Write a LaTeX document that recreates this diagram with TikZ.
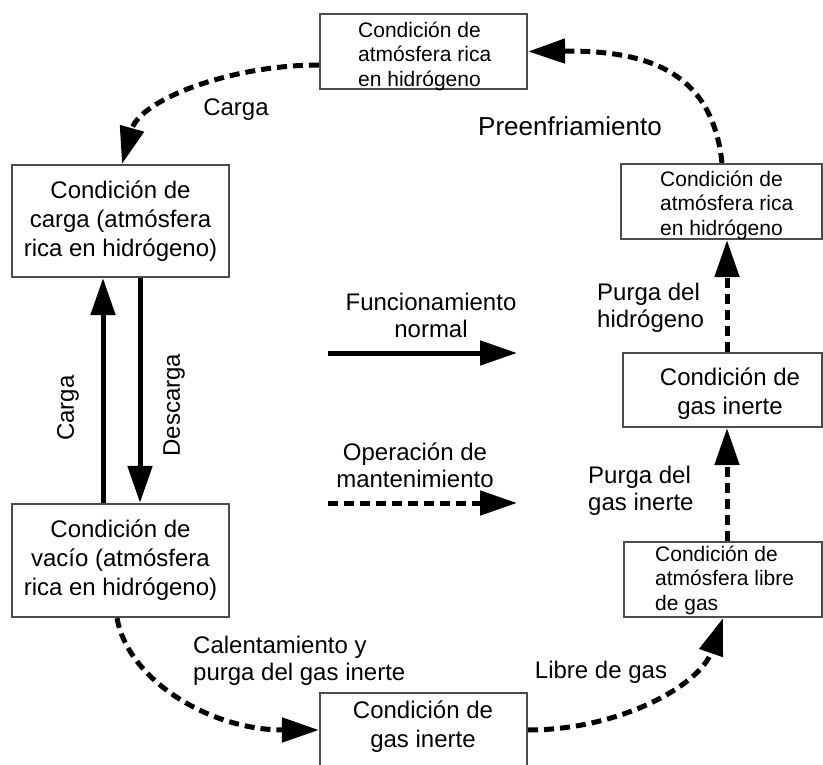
\documentclass[tikz,border=0pt]{standalone}
\usepackage{fontspec}
\setmainfont{Liberation Sans}
\usetikzlibrary{arrows.meta,calc}
\begin{document}
\begin{tikzpicture}[x=1pt,y=-1pt,
  box/.style={draw=black!70, line width=2.2pt, fill=white, inner sep=0pt},
  big/.style={font=\fontsize{24}{29}\selectfont, align=center},
  small/.style={font=\fontsize{21}{24.5}\selectfont, align=left, inner sep=0pt},
  lbl/.style={font=\fontsize{24}{27}\selectfont, inner sep=0pt},
  solidarr/.style={line width=5pt, -{Triangle[length=37pt,width=24pt]}},
  dasharr/.style={line width=5pt, dash pattern=on 10pt off 6pt, -{Triangle[length=37pt,width=24pt]}},
]
\useasboundingbox (0,0) rectangle (823,765);
\clip (0,0) rectangle (823,765);

% boxes
\node[box, minimum width=207pt, minimum height=75pt] (tb) at (423.5,51.5) {};
\node[small, anchor=west] (tbt) at (358,56) {Condición de\\atmósfera rica\\en hidrógeno};

\node[box, big, minimum width=217pt, minimum height=112pt] (lt) at (120.5,221) {Condición de\\carga (atmósfera\\rica en hidrógeno)};

\node[box, minimum width=201pt, minimum height=75pt] (h2) at (721.5,201.5) {};
\node[small, anchor=west] (h2t) at (660,205) {Condición de\\atmósfera rica\\en hidrógeno};

\node[box, minimum width=199pt, minimum height=74pt] (h3) at (722.5,390) {};
\node[big, inner sep=0pt] (h3t) at (730,394) {Condición de\\gas inerte};

\node[box, minimum width=198pt, minimum height=75pt] (h4) at (723,579.5) {};
\node[small, anchor=west] (h4t) at (655,580) {Condición de\\atmósfera libre\\de gas};

\node[box, big, minimum width=217pt, minimum height=113pt] (lb) at (120.5,560.5) {Condición de\\vacío (atmósfera\\rica en hidrógeno)};

\node[box, minimum width=207pt, minimum height=97pt] (bb) at (423.5,741.5) {};
\node[big, inner sep=0pt] (bbt) at (423,727) {Condición de\\gas inerte};

% labels
\node[lbl] (lcarga) at (236,110) {Carga};
\node[lbl, font=\fontsize{26}{30}\selectfont] (lpre) at (570,126) {Preenfriamiento};
\node[lbl, align=center] (lfun) at (431,315) {Funcionamiento\\normal};
\node[lbl, align=center] (lop) at (415,465) {Operación de\\mantenimiento};
\node[lbl, align=left, anchor=west] (lph) at (597,308) {Purga del\\hidrógeno};
\node[lbl, align=left, anchor=west] (lpg) at (588,491) {Purga del\\gas inerte};
\node[lbl, align=left, anchor=west] (lcal) at (193,661) {Calentamiento y\\purga del gas inerte};
\node[lbl] (llib) at (601,672) {Libre de gas};
\node[lbl, rotate=90] (lc2) at (68,408) {Carga};
\node[lbl, rotate=90] (ld) at (174,405) {Descarga};

% coordinates for legend arrows
\coordinate (f1) at (328,353);
\coordinate (f2) at (517,353);
\coordinate (m1) at (328,503);
\coordinate (m2) at (517,503);
\draw[solidarr] (f1) -- (f2);
\draw[dasharr] (m1) -- (m2);

% left vertical arrows
\draw[solidarr] ([xshift=-17.5pt]lb.north) -- ([xshift=-17.5pt]lt.south);
\draw[solidarr] ([xshift=19.5pt]lt.south) -- ([xshift=19.5pt]lb.north);

% right vertical dashed arrows
\draw[dasharr] ([xshift=4.5pt]h3.north) -- ([xshift=5.5pt]h2.south);
\draw[dasharr] ([xshift=4pt]h4.north) -- ([xshift=4.5pt]h3.south);

% curved dashed arrows
\draw[dasharr] ([yshift=-13.5pt]tb.west) .. controls (230,65) and (140,100) .. ([xshift=1.5pt]lt.north);
\draw[dasharr] ([xshift=0.5pt]h2.north) .. controls (713,80) and (660,50) .. (tb.east);
\draw[dasharr] ([xshift=-3.5pt]lb.south) .. controls (128,680) and (210,730) .. ([yshift=11.5pt]bb.west);
\draw[dasharr] ([yshift=11.5pt]bb.east) .. controls (620,730) and (700,685) .. (h4.south);
\end{tikzpicture}
\end{document}
